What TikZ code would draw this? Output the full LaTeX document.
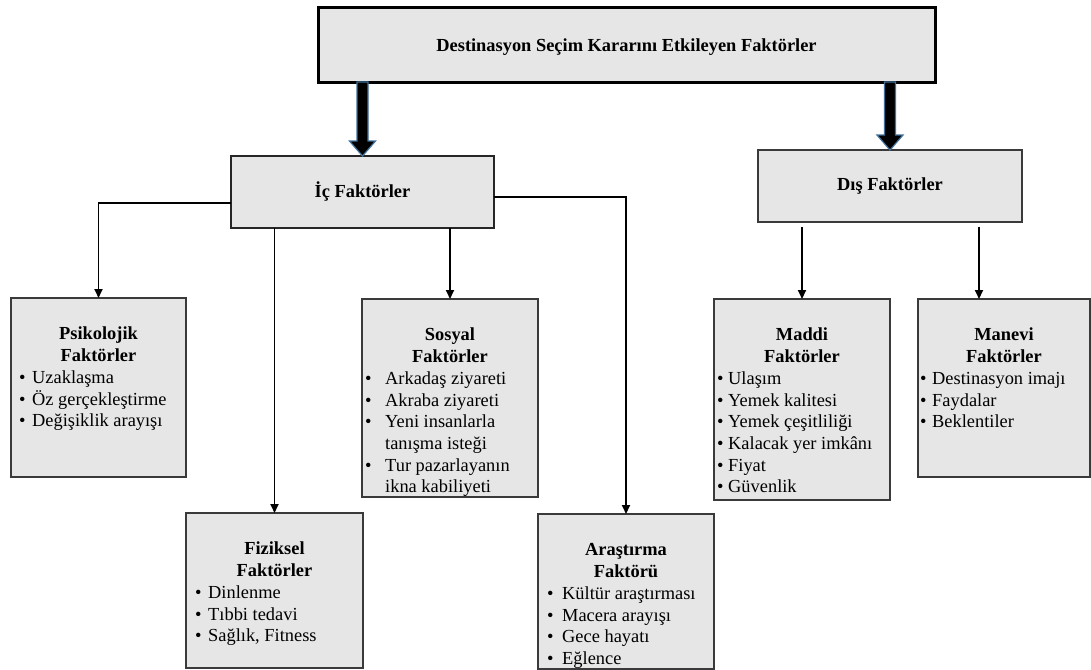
\documentclass[tikz,border=0pt]{standalone}
\usepackage{fontspec}
\setmainfont{Liberation Serif}
\usetikzlibrary{arrows.meta,calc}
\definecolor{boxfill}{HTML}{E6E6E6}
\definecolor{boxline}{HTML}{3A3A3A}
\definecolor{arrowrim}{HTML}{41719C}
\newcommand\bu[1]{\makebox[#1pt][l]{•}}
\begin{document}
\begin{tikzpicture}[x=1pt,y=-1pt,
  box/.style={draw=boxline, line width=1.3pt, fill=boxfill, anchor=north west,
    inner sep=0pt, outer sep=0pt},
  topbox/.style={box, draw=black, line width=3pt, font=\fontsize{18.4}{22}\selectfont\bfseries},
  midbox/.style={box, draw=black!85, line width=1.5pt, font=\fontsize{18.4}{22}\selectfont\bfseries},
  head/.style={inner sep=0pt, anchor=north, font=\fontsize{18.4}{22}\selectfont\bfseries},
  list/.style={inner sep=0pt, anchor=north west, font=\fontsize{18.4}{21.7}\selectfont},
  conn/.style={line width=1.8pt, -{Triangle[width=8pt,length=9pt]}},
  bigarrow/.style={fill=black, draw=arrowrim, line width=1.2pt, line join=miter},
]
\useasboundingbox (0,0) rectangle (1091,669);

% second level
\node[midbox, minimum width=263pt, minimum height=72pt] (ic) at (231,156) {İç Faktörler};
\node[midbox, draw=boxline, minimum width=264pt, minimum height=72pt] (dis) at (758,150) {Dış Faktörler};

% top level
\node[topbox, minimum width=617pt, minimum height=74pt, text depth=-4pt] (top) at (318,8)
  {Destinasyon Seçim Kararını Etkileyen Faktörler};

% block arrows from the top box
\foreach \t in {ic,dis}{
  \draw[bigarrow] (\t.north) -- ($(\t.north)+(-13,-15)$) -- ($(\t.north)+(-5.5,-15)$)
    -- ($(top.south -| \t.north)+(-5.5,0)$) -- ($(top.south -| \t.north)+(5.5,0)$)
    -- ($(\t.north)+(5.5,-15)$) -- ($(\t.north)+(13,-15)$) -- cycle;
}

% third level boxes
\node[box, minimum width=175pt, minimum height=179pt] (psi) at (11,298) {};
\node[box, minimum width=177pt, minimum height=155pt] (fiz) at (186,513) {};
\node[box, minimum width=176pt, minimum height=198pt] (sos) at (362,299) {};
\node[box, minimum width=176pt, minimum height=155pt] (ara) at (538,514) {};
\node[box, minimum width=176pt, minimum height=201pt] (mad) at (714,299) {};
\node[box, minimum width=172pt, minimum height=178pt] (man) at (918,299) {};

% connectors
\draw[conn] ([yshift=-11pt]ic.west) -| (psi.north);
\draw[conn] (fiz.north |- ic.south) -- (fiz.north);
\draw[conn] (sos.north |- ic.south) -- (sos.north);
\draw[conn] ([yshift=-5pt]ic.east) -| (ara.north);
\coordinate (manin) at ([xshift=-25pt]man.north);
\draw[conn] ([yshift=-5pt]dis.south -| mad.north) -- (mad.north);
\draw[conn] ([yshift=-5pt]dis.south -| manin) -- (manin);

% box headings
\foreach \b/\h/\k in {psi/Psikolojik/Faktörler, fiz/Fiziksel/Faktörler, sos/Sosyal/Faktörler,
                      ara/Araştırma/Faktörü, mad/Maddi/Faktörler, man/Manevi/Faktörler}{
  \node[head] at ([yshift=-26pt]\b.north) {\begin{tabular}{@{}c@{}}\h\\ \k\end{tabular}};
}

% box contents
\node[list] at ([xshift=8pt,yshift=-70pt]psi.north west) {\begin{tabular}{@{}l@{}l@{}}
  \bu{13}&Uzaklaşma\\ \bu{13}&Öz gerçekleştirme\\ \bu{13}&Değişiklik arayışı\end{tabular}};
\node[list] at ([xshift=9pt,yshift=-70pt]fiz.north west) {\begin{tabular}{@{}l@{}l@{}}
  \bu{13}&Dinlenme\\ \bu{13}&Tıbbi tedavi\\ \bu{13}&Sağlık, Fitness\end{tabular}};
\node[list] at ([xshift=3pt,yshift=-70pt]sos.north west) {\begin{tabular}{@{}l@{}l@{}}
  \bu{20}&Arkadaş ziyareti\\ \bu{20}&Akraba ziyareti\\ \bu{20}&Yeni insanlarla\\
  &tanışma isteği\\ \bu{20}&Tur pazarlayanın\\ &ikna kabiliyeti\end{tabular}};
\node[list] at ([xshift=9pt,yshift=-70pt]ara.north west) {\begin{tabular}{@{}l@{}l@{}}
  \bu{15}&Kültür araştırması\\ \bu{15}&Macera arayışı\\ \bu{15}&Gece hayatı\\
  \bu{15}&Eğlence\end{tabular}};
\node[list] at ([xshift=3pt,yshift=-70pt]mad.north west) {\begin{tabular}{@{}l@{}l@{}}
  \bu{11}&Ulaşım\\ \bu{11}&Yemek kalitesi\\ \bu{11}&Yemek çeşitliliği\\
  \bu{11}&Kalacak yer imkânı\\ \bu{11}&Fiyat\\ \bu{11}&Güvenlik\end{tabular}};
\node[list] at ([xshift=2pt,yshift=-70pt]man.north west) {\begin{tabular}{@{}l@{}l@{}}
  \bu{12}&Destinasyon imajı\\ \bu{12}&Faydalar\\ \bu{12}&Beklentiler\end{tabular}};
\end{tikzpicture}
\end{document}
